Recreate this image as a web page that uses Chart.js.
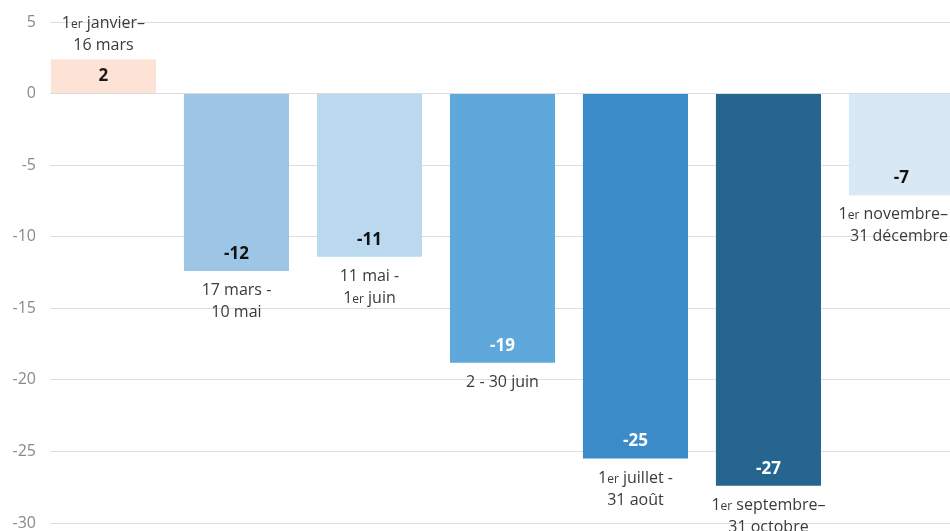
<!DOCTYPE html>
<html lang="fr">
<head>
<meta charset="utf-8">
<title>Variation par période</title>
<script src="https://cdn.jsdelivr.net/npm/chart.js@4.4.1/dist/chart.umd.min.js"></script>
<style>
    html, body { margin: 0; padding: 0; background: #fff; overflow: hidden; }
    canvas { display: block; }
</style>
</head>
<body>
<canvas id="period-chart" width="950" height="531"></canvas>
<script>
// Periods (one entry per bar, split on two lines)
var periodLabels = [
    ['1er janvier–', '16 mars'],
    ['17 mars -', '10 mai'],
    ['11 mai -', '1er juin'],
    ['2 - 30 juin'],
    ['1er juillet -', '31 août'],
    ['1er septembre–', '31 octobre'],
    ['1er novembre–', '31 décembre']
];

// Change per period
var changeValues = [2.4, -12.4, -11.4, -18.8, -25.5, -27.4, -7.1];

// Rounded values printed on the bars
var valueLabels = ['2', '-12', '-11', '-19', '-25', '-27', '-7'];

// Y axis range
var yMin = -30;
var yMax = 5;
var yStep = 5;

var barColors = ['#fde3d6', '#9dc6e6', '#bad9ee', '#5fa8dc', '#3a8bc7', '#256590', '#d8e8f4'];
var valueColors = ['#1a1a1a', '#111111', '#111111', '#ffffff', '#ffffff', '#ffffff', '#111111'];

var FONT = '"Open Sans", "DejaVu Sans", sans-serif';

// Draws one period line, with a small "er" after a leading 1
function drawPeriodLine(ctx, text, cx, cy, canvasWidth) {
    var normal = '16px ' + FONT;
    var small = '12px ' + FONT;
    var parts;
    var m = text.match(/^1er(.*)$/);
    if (m) {
        parts = [{ t: '1', f: normal }, { t: 'er', f: small }, { t: m[1], f: normal }];
    } else {
        parts = [{ t: text, f: normal }];
    }

    var total = 0;
    parts.forEach(function(p) {
        ctx.font = p.f;
        p.w = ctx.measureText(p.t).width;
        total += p.w;
    });

    var x = cx - total / 2;
    if (x + total > canvasWidth - 2) {
        x = canvasWidth - 2 - total;
    }
    if (x < 2) {
        x = 2;
    }

    ctx.textAlign = 'left';
    ctx.textBaseline = 'alphabetic';
    ctx.fillStyle = '#3a3a3a';
    parts.forEach(function(p) {
        ctx.font = p.f;
        ctx.fillText(p.t, x, cy + 6);
        x += p.w;
    });
}

// Value inside each bar and period name next to it
var barLabelsPlugin = {
    id: 'barLabels',
    afterDatasetsDraw: function(chart) {
        var ctx = chart.ctx;
        var bars = chart.getDatasetMeta(0).data;
        ctx.save();
        bars.forEach(function(bar, i) {
            var down = changeValues[i] < 0;

            ctx.font = 'bold 17px ' + FONT;
            ctx.fillStyle = valueColors[i];
            ctx.textAlign = 'center';
            ctx.textBaseline = 'middle';
            var vy = down ? bar.y - 17 : bar.y + 17;
            ctx.fillText(valueLabels[i], bar.x, vy);

            var lines = periodLabels[i];
            var firstY = down ? bar.y + 18 : bar.y - 15 - (lines.length - 1) * 22;
            lines.forEach(function(line, j) {
                drawPeriodLine(ctx, line, bar.x, firstY + j * 22, chart.width);
            });
        });
        ctx.restore();
    }
};

var periodCtx = document.getElementById('period-chart');
var periodChart = new Chart(periodCtx, {
    type: 'bar',
    data: {
        datasets: [{
            data: changeValues.map(function(v, i) { return { x: i, y: v }; }),
            backgroundColor: barColors,
            borderWidth: 0,
            categoryPercentage: 1,
            barPercentage: 0.79
        }]
    },
    options: {
        responsive: false,
        animation: false,
        layout: {
            padding: { top: 22, right: 0, bottom: 8, left: 0 }
        },
        plugins: {
            legend: { display: false },
            tooltip: { enabled: false }
        },
        scales: {
            x: {
                type: 'linear',
                min: -0.402,
                max: 6.365,
                offset: false,
                display: false
            },
            y: {
                min: yMin,
                max: yMax,
                ticks: {
                    stepSize: yStep,
                    color: '#8a8a8a',
                    padding: 14,
                    font: { family: FONT, size: 16 }
                },
                grid: {
                    color: '#dddddd',
                    drawTicks: false
                },
                border: { display: false },
                afterFit: function(scale) {
                    // fixed axis width, and let the layout padding decide top/bottom
                    scale.width = 50;
                    scale.paddingTop = 0;
                    scale.paddingBottom = 0;
                }
            }
        }
    },
    plugins: [barLabelsPlugin]
});
</script>
</body>
</html>
